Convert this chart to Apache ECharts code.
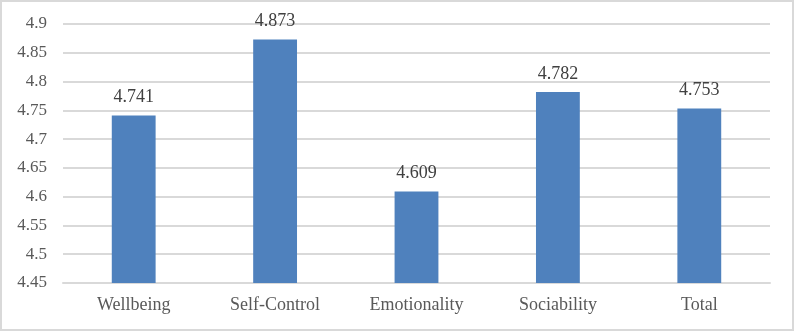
<!DOCTYPE html>
<html><head><meta charset="utf-8">
<script src="https://cdn.jsdelivr.net/npm/echarts@6/dist/echarts.min.js"></script>
<style>
html,body{margin:0;padding:0;background:#fff;}
#wrap{position:absolute;left:0;top:0;width:790px;height:327px;border:2px solid #d9d9d9;}
#c{width:790px;height:327px;}
</style></head>
<body><div id="wrap"><div id="c"></div></div>
<script>
const categories = ["Wellbeing", "Self-Control", "Emotionality", "Sociability", "Total"];
const values = [4.741, 4.873, 4.609, 4.782, 4.753];
const yMin = 4.45, yMax = 4.9, yStep = 0.05;

const chart = echarts.init(document.getElementById('c'), null, {renderer: 'canvas'});
const font = '"Liberation Serif", "Times New Roman", serif';
chart.setOption({
  animation: false,
  grid: {left: 61, right: 22, top: 22, bottom: 46, containLabel: false},
  xAxis: {
    type: 'category', data: categories,
    axisLine: {show: true, lineStyle: {color: '#d9d9d9', width: 2}},
    axisTick: {show: false},
    axisLabel: {color: '#595959', fontFamily: font, fontSize: 18, margin: 13}
  },
  yAxis: {
    type: 'value', min: yMin, max: yMax, interval: yStep,
    axisLine: {show: false}, axisTick: {show: false},
    splitLine: {lineStyle: {color: '#d9d9d9', width: 2}},
    axisLabel: {color: '#595959', fontFamily: font, fontSize: 17, margin: 16,
      formatter: v => String(parseFloat(v.toFixed(2)))}
  },
  series: [{
    type: 'bar', data: values, barWidth: '31%',
    itemStyle: {color: '#4f81bd'},
    label: {show: true, position: 'top', distance: 9, color: '#404040', fontFamily: font, fontSize: 18,
      formatter: p => p.value.toFixed(3)}
  }]
});
</script></body></html>
